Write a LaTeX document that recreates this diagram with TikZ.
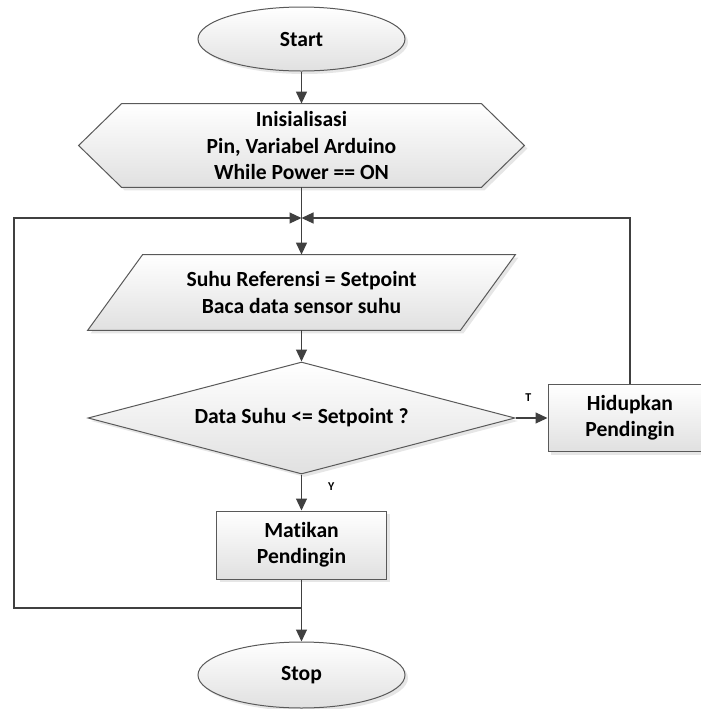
\documentclass[tikz,border=0pt]{standalone}
\usepackage{fontspec}
\setmainfont[Ligatures=NoCommon]{Carlito}
\usetikzlibrary{arrows.meta, shapes.geometric, shadows, backgrounds}

\tikzset{
  teks/.style={font=\fontsize{10.8}{13.2}\selectfont\bfseries, align=center, inner sep=1pt},
  bentuk/.style={draw=black!65, line width=0.5pt, top color=white, bottom color=black!12,
    drop shadow={shadow xshift=1.5pt, shadow yshift=-1.5pt, opacity=0.2}},
  terminal/.style={teks, bentuk, ellipse, minimum width=103.5pt, minimum height=32pt},
  proses/.style={teks, bentuk, rectangle, minimum width=84pt, minimum height=33.5pt},
  keputusan/.style={teks, bentuk, diamond, aspect=3.8, minimum width=213.5pt, minimum height=56pt},
  alur/.style={draw=black!75, line width=0.6pt, -{Triangle[length=6pt,width=5.5pt]}},
  ket/.style={font=\fontsize{6}{7}\selectfont\bfseries, inner sep=1pt}
}

\begin{document}
\begin{tikzpicture}[x=0.5pt, y=-0.5pt]
  \useasboundingbox (0,0) rectangle (701,709);
  % simbol alur
  \node[terminal] (start) at (301.5,39) {Start};
  \node[teks, minimum width=179.5pt, minimum height=41.5pt] (init) at (301.5,145.5)
    {Inisialisasi\\Pin, Variabel Arduino\\While Power == ON};
  \node[teks, minimum width=186pt, minimum height=37.5pt] (baca) at (301.5,292.5)
    {Suhu Referensi = Setpoint\\Baca data sensor suhu};
  \node[keputusan] (cek) at (301.5,418) {Data Suhu <= Setpoint ?};
  \node[proses, minimum width=82pt] (hidup) at (630,418) {Hidupkan\\Pendingin};
  \node[proses, minimum width=85pt, minimum height=34pt] (mati) at (301.5,545) {Matikan\\Pendingin};
  \node[terminal, minimum height=33pt] (stop) at (301.5,675) {Stop};
  % persiapan dan input (di belakang teks)
  \begin{scope}[on background layer]
    \path[bentuk] (init.north west) -- (init.north east) -- ([xshift=21.5pt]init.east)
      -- (init.south east) -- (init.south west) -- ([xshift=-21.5pt]init.west) -- cycle;
    \path[bentuk] ([xshift=13.75pt]baca.north west) -- ([xshift=13.75pt]baca.north east)
      -- ([xshift=-13.75pt]baca.south east) -- ([xshift=-13.75pt]baca.south west) -- cycle;
  \end{scope}
  % titik bantu
  \coordinate (temu) at (301.5,218);
  \coordinate (gabung) at (301.5,608);
  \coordinate (kiri) at (14,218);
  % garis alur
  \draw[alur] (start) -- (init);
  \draw[alur] (init.south) -- (baca.north);
  \draw[alur] (baca.south) -- (cek.north);
  \draw[alur] (cek.east) -- node[ket, above=7pt, pos=0.4] {T} (hidup.west);
  \draw[alur] (cek.south) -- node[ket, right=12pt, pos=0.35] {Y} (mati.north);
  \draw[alur] (mati.south) -- (stop.north);
  \draw[alur] (hidup.north) |- (temu);
  \draw[alur] (gabung) -| (kiri) -- (temu);
\end{tikzpicture}
\end{document}
